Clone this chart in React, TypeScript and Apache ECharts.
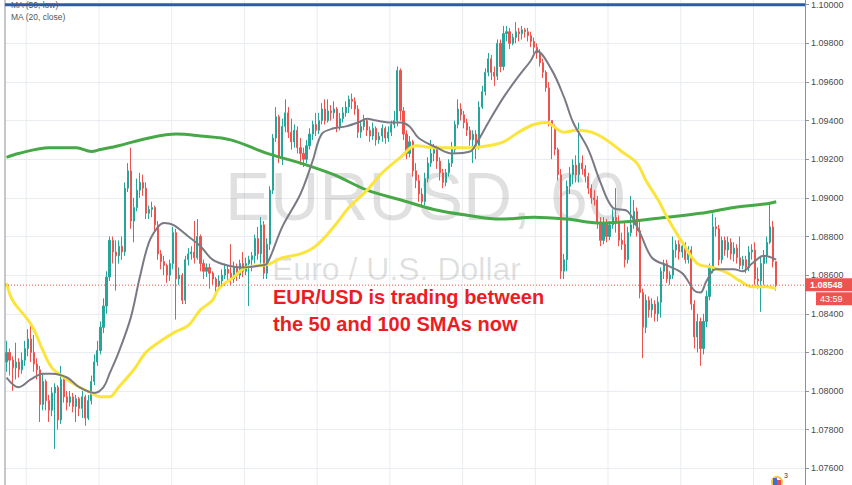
import React, { useEffect, useRef } from 'react';
import * as echarts from 'echarts';

// ---- data (EUR/USD, 60 min) ----
const firstOpen = 1.0815;
const closes = [
  1.0820, 1.0816, 1.0812, 1.0815, 1.0811, 1.0816, 1.0822, 1.0827, 1.0820, 1.0814,
  1.0811, 1.0793, 1.0805, 1.0795, 1.0790, 1.0799, 1.0802, 1.0785, 1.0806, 1.0797,
  1.0794, 1.0797, 1.0792, 1.0796, 1.0791, 1.0797, 1.0786, 1.0795, 1.0805, 1.0815,
  1.0821, 1.0833, 1.0844, 1.0859, 1.0878, 1.0872, 1.0870, 1.0875, 1.0872, 1.0905,
  1.0914, 1.0888, 1.0895, 1.0904, 1.0908, 1.0905, 1.0892, 1.0894, 1.0895, 1.0886,
  1.0871, 1.0867, 1.0865, 1.0860, 1.0866, 1.0882, 1.0858, 1.0860, 1.0847, 1.0868,
  1.0871, 1.0872, 1.0869, 1.0880, 1.0866, 1.0862, 1.0864, 1.0861, 1.0858, 1.0854,
  1.0857, 1.0860, 1.0863, 1.0861, 1.0858, 1.0864, 1.0860, 1.0866, 1.0862, 1.0866,
  1.0868, 1.0870, 1.0879, 1.0871, 1.0886, 1.0861, 1.0876, 1.0904, 1.0931, 1.0942,
  1.0921, 1.0937, 1.0944, 1.0934, 1.0929, 1.0935, 1.0926, 1.0923, 1.0920, 1.0927,
  1.0933, 1.0938, 1.0935, 1.0940, 1.0946, 1.0940, 1.0945, 1.0944, 1.0946, 1.0937,
  1.0941, 1.0944, 1.0947, 1.0951, 1.0950, 1.0946, 1.0934, 1.0937, 1.0940, 1.0935,
  1.0932, 1.0936, 1.0930, 1.0932, 1.0936, 1.0931, 1.0934, 1.0938, 1.0940, 1.0966,
  1.0945, 1.0933, 1.0923, 1.0929, 1.0914, 1.0909, 1.0902, 1.0898, 1.0910, 1.0918,
  1.0923, 1.0925, 1.0919, 1.0913, 1.0908, 1.0913, 1.0918, 1.0925, 1.0938, 1.0946,
  1.0943, 1.0939, 1.0935, 1.0930, 1.0933, 1.0927, 1.0947, 1.0955, 1.0965, 1.0972,
  1.0965, 1.0963, 1.0980, 1.0968, 1.0985, 1.0986, 1.0980, 1.0983, 1.0986, 1.0985,
  1.0987, 1.0986, 1.0984, 1.0981, 1.0978, 1.0975, 1.0970, 1.0965, 1.0957, 1.0940,
  1.0937, 1.0925, 1.0912, 1.0862, 1.0868, 1.0906, 1.0912, 1.0917, 1.0912, 1.0918,
  1.0915, 1.0911, 1.0905, 1.0900, 1.0899, 1.0887, 1.0878, 1.0887, 1.0880, 1.0886,
  1.0890, 1.0888, 1.0878, 1.0876, 1.0868, 1.0882, 1.0886, 1.0893, 1.0883, 1.0851,
  1.0833, 1.0847, 1.0842, 1.0845, 1.0840, 1.0846, 1.0862, 1.0866, 1.0858, 1.0860,
  1.0873, 1.0876, 1.0872, 1.0875, 1.0868, 1.0873, 1.0845, 1.0828, 1.0836, 1.0822,
  1.0836, 1.0849, 1.0864, 1.0885, 1.0884, 1.0868, 1.0878, 1.0873, 1.0877, 1.0871,
  1.0874, 1.0869, 1.0865, 1.0868, 1.0864, 1.0872, 1.0873, 1.0858, 1.0857, 1.0866,
  1.0870, 1.0877, 1.0885, 1.0867, 1.08548,
];
const highs = [
  1.0826, 1.0822, 1.0818, 1.0825, 1.0817, 1.0820, 1.0826, 1.0832, 1.0836, 1.0829,
  1.0817, 1.0813, 1.0809, 1.0806, 1.0798, 1.0802, 1.0804, 1.0803, 1.0813, 1.0808,
  1.0800, 1.0800, 1.0799, 1.0798, 1.0797, 1.0800, 1.0798, 1.0798, 1.0808, 1.0819,
  1.0826, 1.0836, 1.0848, 1.0862, 1.0880, 1.0880, 1.0878, 1.0878, 1.0880, 1.0908,
  1.0918, 1.0926, 1.0900, 1.0910, 1.0913, 1.0912, 1.0908, 1.0896, 1.0898, 1.0896,
  1.0888, 1.0873, 1.0870, 1.0866, 1.0868, 1.0885, 1.0884, 1.0864, 1.0861, 1.0870,
  1.0874, 1.0875, 1.0888, 1.0889, 1.0881, 1.0868, 1.0866, 1.0866, 1.0862, 1.0859,
  1.0860, 1.0863, 1.0866, 1.0865, 1.0876, 1.0867, 1.0866, 1.0868, 1.0872, 1.0869,
  1.0870, 1.0872, 1.0881, 1.0885, 1.0890, 1.0888, 1.0879, 1.0906, 1.0933, 1.0947,
  1.0943, 1.0941, 1.0951, 1.0947, 1.0941, 1.0938, 1.0937, 1.0931, 1.0926, 1.0930,
  1.0936, 1.0940, 1.0944, 1.0944, 1.0949, 1.0951, 1.0951, 1.0948, 1.0950, 1.0947,
  1.0944, 1.0947, 1.0950, 1.0953, 1.0954, 1.0952, 1.0948, 1.0940, 1.0943, 1.0941,
  1.0937, 1.0939, 1.0937, 1.0934, 1.0938, 1.0937, 1.0937, 1.0940, 1.0945, 1.0968,
  1.0967, 1.0947, 1.0935, 1.0932, 1.0930, 1.0918, 1.0912, 1.0905, 1.0913, 1.0921,
  1.0930, 1.0928, 1.0927, 1.0921, 1.0915, 1.0915, 1.0920, 1.0929, 1.0940, 1.0951,
  1.0949, 1.0945, 1.0941, 1.0937, 1.0935, 1.0935, 1.0950, 1.0958, 1.0967, 1.0975,
  1.0974, 1.0968, 1.0982, 1.0982, 1.0989, 1.0989, 1.0988, 1.0985, 1.0991, 1.0988,
  1.0989, 1.0988, 1.0988, 1.0986, 1.0983, 1.0980, 1.0977, 1.0972, 1.0966, 1.0960,
  1.0940, 1.0938, 1.0926, 1.0915, 1.0871, 1.0909, 1.0916, 1.0920, 1.0922, 1.0939,
  1.0922, 1.0917, 1.0913, 1.0907, 1.0904, 1.0901, 1.0890, 1.0890, 1.0889, 1.0888,
  1.0894, 1.0905, 1.0891, 1.0882, 1.0888, 1.0885, 1.0901, 1.0899, 1.0895, 1.0889,
  1.0853, 1.0850, 1.0849, 1.0848, 1.0847, 1.0849, 1.0864, 1.0868, 1.0868, 1.0862,
  1.0880, 1.0878, 1.0878, 1.0877, 1.0877, 1.0875, 1.0875, 1.0847, 1.0840, 1.0838,
  1.0840, 1.0852, 1.0866, 1.0892, 1.0890, 1.0886, 1.0880, 1.0880, 1.0880, 1.0879,
  1.0877, 1.0876, 1.0880, 1.0870, 1.0870, 1.0875, 1.0876, 1.0877, 1.0864, 1.0870,
  1.0873, 1.0880, 1.0897, 1.0888, 1.0867,
];
const lows = [
  1.0810, 1.0808, 1.0800, 1.0806, 1.0807, 1.0809, 1.0813, 1.0818, 1.0815, 1.0810,
  1.0806, 1.0784, 1.0790, 1.0790, 1.0784, 1.0787, 1.0770, 1.0780, 1.0783, 1.0794,
  1.0790, 1.0792, 1.0789, 1.0784, 1.0787, 1.0786, 1.0782, 1.0785, 1.0793, 1.0803,
  1.0813, 1.0819, 1.0830, 1.0840, 1.0857, 1.0866, 1.0852, 1.0866, 1.0868, 1.0870,
  1.0903, 1.0884, 1.0877, 1.0893, 1.0900, 1.0901, 1.0889, 1.0889, 1.0890, 1.0882,
  1.0868, 1.0863, 1.0860, 1.0856, 1.0857, 1.0863, 1.0837, 1.0855, 1.0845, 1.0845,
  1.0865, 1.0868, 1.0866, 1.0868, 1.0862, 1.0858, 1.0859, 1.0853, 1.0855, 1.0850,
  1.0852, 1.0855, 1.0858, 1.0857, 1.0855, 1.0856, 1.0857, 1.0858, 1.0859, 1.0860,
  1.0844, 1.0862, 1.0866, 1.0868, 1.0866, 1.0858, 1.0858, 1.0873, 1.0902, 1.0929,
  1.0918, 1.0917, 1.0934, 1.0931, 1.0925, 1.0926, 1.0923, 1.0917, 1.0916, 1.0918,
  1.0925, 1.0930, 1.0932, 1.0933, 1.0938, 1.0938, 1.0939, 1.0940, 1.0941, 1.0934,
  1.0935, 1.0939, 1.0942, 1.0944, 1.0946, 1.0943, 1.0931, 1.0931, 1.0935, 1.0932,
  1.0929, 1.0930, 1.0927, 1.0928, 1.0929, 1.0928, 1.0929, 1.0932, 1.0936, 1.0937,
  1.0940, 1.0930, 1.0920, 1.0921, 1.0911, 1.0905, 1.0898, 1.0895, 1.0896, 1.0908,
  1.0916, 1.0919, 1.0915, 1.0909, 1.0905, 1.0906, 1.0911, 1.0916, 1.0923, 1.0936,
  1.0940, 1.0936, 1.0932, 1.0927, 1.0918, 1.0920, 1.0925, 1.0946, 1.0953, 1.0963,
  1.0961, 1.0958, 1.0961, 1.0965, 1.0966, 1.0981, 1.0977, 1.0979, 1.0980, 1.0981,
  1.0982, 1.0983, 1.0981, 1.0978, 1.0975, 1.0972, 1.0968, 1.0962, 1.0955, 1.0937,
  1.0920, 1.0922, 1.0909, 1.0858, 1.0858, 1.0862, 1.0902, 1.0907, 1.0908, 1.0908,
  1.0912, 1.0908, 1.0902, 1.0897, 1.0896, 1.0884, 1.0875, 1.0876, 1.0877, 1.0878,
  1.0884, 1.0882, 1.0875, 1.0873, 1.0864, 1.0866, 1.0880, 1.0884, 1.0880, 1.0848,
  1.0817, 1.0830, 1.0838, 1.0838, 1.0836, 1.0836, 1.0838, 1.0858, 1.0856, 1.0855,
  1.0858, 1.0869, 1.0868, 1.0869, 1.0866, 1.0866, 1.0842, 1.0822, 1.0820, 1.0813,
  1.0819, 1.0833, 1.0847, 1.0861, 1.0880, 1.0865, 1.0866, 1.0870, 1.0869, 1.0868,
  1.0867, 1.0866, 1.0863, 1.0863, 1.0861, 1.0862, 1.0868, 1.0855, 1.0853, 1.0841,
  1.0855, 1.0866, 1.0876, 1.0864, 1.0852,
];

// moving averages: bar index -> value
const ma100Idx = [0, 4, 14, 23, 28, 31, 37, 47, 56, 64, 74, 86, 97, 108, 119, 130, 141, 152, 163, 174, 185, 196, 207, 218, 229, 240, 251, 254];
const ma100Val = [1.0921, 1.0923, 1.0926, 1.0926, 1.0924, 1.0925, 1.0927, 1.0931, 1.0933, 1.0932, 1.0930, 1.0923, 1.0918, 1.0912, 1.0904, 1.0899, 1.0894, 1.0891, 1.0889, 1.0890, 1.0889, 1.0887, 1.0888, 1.0890, 1.0892, 1.0895, 1.0897, 1.0898];

const ma50Idx = [0, 2, 7, 9, 12, 15, 19, 23, 28, 31, 34, 37, 42, 46, 51, 55, 60, 64, 68, 70, 75, 79, 84, 87, 91, 97, 102, 108, 113, 119, 124, 130, 135, 142, 147, 153, 159, 164, 169, 174, 178, 184, 188, 193, 198, 203, 208, 211, 215, 218, 223, 228, 233, 238, 242, 246, 251, 254];
const ma50Val = [1.0856, 1.0847, 1.0837, 1.0832, 1.0821, 1.0812, 1.0807, 1.0803, 1.0799, 1.0797, 1.0797, 1.0802, 1.0811, 1.0820, 1.0826, 1.0830, 1.0834, 1.0842, 1.0847, 1.0853, 1.0859, 1.0864, 1.0865, 1.0866, 1.0869, 1.0871, 1.0875, 1.0885, 1.0895, 1.0904, 1.0913, 1.0921, 1.0927, 1.0926, 1.0926, 1.0926, 1.0927, 1.0929, 1.0934, 1.0938, 1.0939, 1.0934, 1.0935, 1.0934, 1.0930, 1.0924, 1.0918, 1.0909, 1.0899, 1.0890, 1.0877, 1.0866, 1.0864, 1.0861, 1.0857, 1.0854, 1.0854, 1.0853];

const ma20Idx = [0, 4, 8, 12, 15, 20, 24, 29, 32, 34, 37, 41, 44, 47, 50, 52, 55, 60, 64, 68, 73, 78, 84, 86, 91, 97, 101, 104, 108, 112, 116, 119, 122, 127, 130, 133, 136, 142, 147, 153, 155, 159, 164, 169, 173, 175, 180, 184, 187, 192, 196, 200, 205, 209, 213, 218, 223, 227, 229, 231, 234, 240, 243, 246, 250, 254];
const ma20Val = [1.0807, 1.0802, 1.0806, 1.0809, 1.0809, 1.0807, 1.0802, 1.0799, 1.0802, 1.0809, 1.0820, 1.0838, 1.0859, 1.0877, 1.0885, 1.0887, 1.0886, 1.0880, 1.0875, 1.0868, 1.0865, 1.0864, 1.0865, 1.0866, 1.0885, 1.0902, 1.0919, 1.0933, 1.0936, 1.0937, 1.0939, 1.0941, 1.0940, 1.0939, 1.0939, 1.0937, 1.0931, 1.0926, 1.0923, 1.0924, 1.0928, 1.0939, 1.0952, 1.0963, 1.0971, 1.0976, 1.0966, 1.0952, 1.0939, 1.0925, 1.0908, 1.0895, 1.0893, 1.0882, 1.0869, 1.0865, 1.0861, 1.0852, 1.0851, 1.0857, 1.0863, 1.0863, 1.0862, 1.0866, 1.0870, 1.0868];

const lastPrice = 1.08548;
const countdown = '43:59';
const levelLine = 1.1;
const yMin = 1.076;
const yMax = 1.1;
const yStep = 0.002;
const barsPerDay = 24;
const dayOffset = 7;
const emptyBars = 9;
const legendLabels = ['MA (50, low)', 'MA (20, close)'];
const watermark = 'EURUSD, 60';
const subtitle = 'Euro / U.S. Dollar';
const note = ['EUR/USD is trading between', 'the 50 and 100 SMAs now'];

const UP = '#26a69a';
const DOWN = '#ef5350';
const GRID = '#e9edf1';
const AXIS = '#8d9099';

export default function App() {
  const ref = useRef<HTMLDivElement>(null);
  useEffect(() => {
    if (!ref.current) return;
    const chart = echarts.init(ref.current, undefined, { renderer: 'svg' });
    const categories = closes.map((_, i) => `b${i}`).concat(
      Array.from({ length: emptyBars }, (_, k) => `e${k}`)
    );
    const candles = closes.map((c, i) => {
      const o = i === 0 ? firstOpen : closes[i - 1];
      const hi = Math.max(highs[i], o, c);
      const lo = Math.min(lows[i], o, c);
      return [o, c, lo, hi];
    });
    const pairs = (idx: number[], val: number[]) => idx.map((x, i) => [x, val[i]]);
    const W = 852;
    const H = 485;
    const gridLeft = 5;
    const gridRight = 47;
    const axisX = W - gridRight;

    chart.setOption({
      animation: false,
      backgroundColor: '#ffffff',
      grid: { left: gridLeft, right: gridRight, top: 4.7, bottom: 16.7 },
      xAxis: {
        type: 'category',
        data: categories,
        boundaryGap: true,
        axisLine: { show: false },
        axisTick: { show: false },
        axisLabel: { show: false },
        splitLine: { show: false },
      },
      yAxis: {
        type: 'value',
        position: 'right',
        min: yMin,
        max: yMax,
        interval: yStep,
        axisLine: { show: false },
        axisTick: { show: true, length: 4, lineStyle: { color: AXIS } },
        axisLabel: {
          formatter: (v: number) => v.toFixed(5),
          color: '#4a4a4a',
          fontSize: 9,
          fontFamily: 'Liberation Sans, Arial, sans-serif',
          margin: 6,
        },
        splitLine: { show: true, lineStyle: { color: GRID, width: 1 } },
      },
      series: [
        {
          type: 'candlestick',
          data: candles,
          barWidth: 1.6,
          z: 3,
          itemStyle: {
            color: UP,
            color0: DOWN,
            borderColor: UP,
            borderColor0: DOWN,
            borderWidth: 1,
          },
        },
        {
          type: 'line',
          name: 'MA100',
          data: pairs(ma100Idx, ma100Val),
          showSymbol: false,
          smooth: 0.35,
          z: 4,
          lineStyle: { color: '#46a846', width: 3 },
        },
        {
          type: 'line',
          name: 'MA50',
          data: pairs(ma50Idx, ma50Val),
          showSymbol: false,
          smooth: 0.35,
          z: 4,
          lineStyle: { color: '#fbe43b', width: 3 },
        },
        {
          type: 'line',
          name: 'MA20',
          data: pairs(ma20Idx, ma20Val),
          showSymbol: false,
          smooth: 0.35,
          z: 5,
          lineStyle: { color: '#7a7a84', width: 2 },
        },
      ],
    });

    const py = chart.convertToPixel({ yAxisIndex: 0 }, lastPrice) as number;
    const ly = chart.convertToPixel({ yAxisIndex: 0 }, levelLine) as number;
    const x0 = chart.convertToPixel({ xAxisIndex: 0 }, 0) as number;
    const x1 = chart.convertToPixel({ xAxisIndex: 0 }, 1) as number;
    const bw = x1 - x0;
    const dayLines: any[] = [];
    for (let i = dayOffset; i < categories.length; i += barsPerDay) {
      const cx = (chart.convertToPixel({ xAxisIndex: 0 }, i) as number) - bw / 2;
      dayLines.push({ type: 'line', z: -1, shape: { x1: cx, y1: 0, x2: cx, y2: H }, style: { stroke: GRID, lineWidth: 1 } });
    }
    const sans = 'Liberation Sans, Arial, sans-serif';
    chart.setOption({
      graphic: [
        ...dayLines,
        { type: 'text', z: 0, style: { x: 225, y: 196, text: watermark, font: `68px ${sans}`, fill: 'rgba(0,0,0,0.12)', verticalAlign: 'middle', align: 'left' } },
        { type: 'text', z: 0, style: { x: 272, y: 269, text: subtitle, font: `32px ${sans}`, fill: 'rgba(0,0,0,0.12)', verticalAlign: 'middle', align: 'left' } },
        { type: 'line', z: 10, shape: { x1: gridLeft, y1: 0, x2: gridLeft, y2: H }, style: { stroke: AXIS, lineWidth: 1 } },
        { type: 'line', z: 10, shape: { x1: axisX + 0.5, y1: 0, x2: axisX + 0.5, y2: H }, style: { stroke: AXIS, lineWidth: 1 } },
        { type: 'text', z: 0, style: { x: 11, y: 5, text: legendLabels[0], font: `8.5px ${sans}`, fill: '#555', verticalAlign: 'middle' } },
        { type: 'text', z: 0, style: { x: 11, y: 17, text: legendLabels[1], font: `8.5px ${sans}`, fill: '#555', verticalAlign: 'middle' } },
        { type: 'line', z: 20, shape: { x1: gridLeft, y1: ly, x2: axisX, y2: ly }, style: { stroke: '#2d5ba9', lineWidth: 3 } },
        { type: 'line', z: 20, shape: { x1: gridLeft, y1: py, x2: axisX, y2: py }, style: { stroke: DOWN, lineWidth: 1, lineDash: [1, 2] } },
        { type: 'text', z: 100, style: { x: 273, y: 297, text: note[0], font: `bold 20px ${sans}`, fill: '#ec1c24', verticalAlign: 'middle' } },
        { type: 'text', z: 100, style: { x: 273, y: 324, text: note[1], font: `bold 20px ${sans}`, fill: '#ec1c24', verticalAlign: 'middle' } },
        { type: 'rect', z: 100, shape: { x: axisX, y: py - 7, width: W - axisX, height: 13 }, style: { fill: DOWN } },
        { type: 'text', z: 101, style: { x: axisX + 5, y: py - 0.5, text: lastPrice.toFixed(5), font: `bold 9px ${sans}`, fill: '#fff', verticalAlign: 'middle' } },
        { type: 'rect', z: 100, shape: { x: axisX + 11, y: py + 7, width: W - axisX - 11, height: 13 }, style: { fill: DOWN } },
        { type: 'text', z: 101, style: { x: axisX + 15, y: py + 13.5, text: countdown, font: `9px ${sans}`, fill: '#fff', verticalAlign: 'middle' } },
        { type: 'ring', z: 100, shape: { cx: 777, cy: 482, r: 6, r0: 4 }, style: { fill: '#f6c343' } },
        { type: 'rect', z: 101, shape: { x: 773, y: 478, width: 4, height: 7 }, style: { fill: '#3b6fd0' } },
        { type: 'rect', z: 101, shape: { x: 777, y: 480, width: 4, height: 5 }, style: { fill: '#e64a4a' } },
        { type: 'text', z: 101, style: { x: 784, y: 475, text: '3', font: `7px ${sans}`, fill: '#333', verticalAlign: 'middle' } },
      ],
    });

    return () => chart.dispose();
  }, []);
  return <div ref={ref} style={{ position: 'fixed', left: 0, top: 0, width: 852, height: 485 }} />;
}
